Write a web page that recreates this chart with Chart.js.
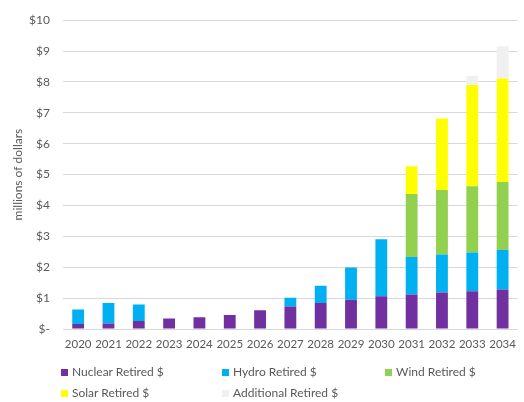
<!DOCTYPE html>
<html>
<head>
<meta charset="utf-8">
<script src="https://cdn.jsdelivr.net/npm/chart.js@4"></script>
<style>
  html, body { margin: 0; padding: 0; background: #ffffff; }
  #wrap { position: relative; width: 524px; height: 402px; }
  #chart { position: absolute; left: 0; top: 0; }
  .lg { position: absolute; font-family: Lato, "Open Sans", sans-serif; font-size: 12px; color: #595959; line-height: 14px; white-space: nowrap; }
  .lg i { position: absolute; left: -11px; top: 4px; width: 7px; height: 7px; }
</style>
</head>
<body>
<div id="wrap">
  <canvas id="chart" width="524" height="402"></canvas>
  <div id="legend"></div>
</div>
<script>
// Retirement cost by year, millions of dollars
const years = ['2020','2021','2022','2023','2024','2025','2026','2027','2028','2029','2030','2031','2032','2033','2034'];
const nuclear    = [0.16, 0.18, 0.26, 0.34, 0.38, 0.45, 0.61, 0.73, 0.84, 0.95, 1.06, 1.12, 1.18, 1.22, 1.28];
const hydro      = [0.47, 0.66, 0.53, 0, 0, 0, 0, 0.28, 0.56, 1.04, 1.85, 1.21, 1.23, 1.26, 1.28];
const wind       = [0, 0, 0, 0, 0, 0, 0, 0, 0, 0, 0, 2.04, 2.09, 2.14, 2.20];
const solar      = [0, 0, 0, 0, 0, 0, 0, 0, 0, 0, 0, 0.90, 2.32, 3.28, 3.35];
const additional = [0, 0, 0, 0, 0, 0, 0, 0, 0, 0, 0, 0, 0, 0.30, 1.05];
const yTicks = [0, 1, 2, 3, 4, 5, 6, 7, 8, 9, 10];

const series = [
  { label: 'Nuclear Retired $',    data: nuclear,    color: '#7030A0' },
  { label: 'Hydro Retired $',      data: hydro,      color: '#00B0F0' },
  { label: 'Wind Retired $',       data: wind,       color: '#92D050' },
  { label: 'Solar Retired $',      data: solar,      color: '#FFFF00' },
  { label: 'Additional Retired $', data: additional, color: '#F0F0F0' }
];

const FONT = 'Lato, "Open Sans", sans-serif';
const TEXT = '#595959';

new Chart(document.getElementById('chart'), {
  type: 'bar',
  data: {
    labels: years,
    datasets: series.map(s => ({
      label: s.label,
      data: s.data,
      backgroundColor: s.color,
      borderWidth: 0,
      barPercentage: 0.39,
      categoryPercentage: 1.0
    }))
  },
  options: {
    responsive: false,
    animation: false,
    devicePixelRatio: 1,
    layout: { padding: { top: 16, right: 2, bottom: 43, left: 0 } },
    plugins: { legend: { display: false }, tooltip: { enabled: false } },
    scales: {
      x: {
        stacked: true,
        grid: { display: false, drawTicks: false },
        border: { display: false },
        ticks: { color: TEXT, font: { family: FONT, size: 11.5 }, padding: 8, maxRotation: 0, autoSkip: false },
        afterFit: (s) => { s.height = 30; }
      },
      y: {
        stacked: true,
        min: 0,
        max: 10,
        afterBuildTicks: (s) => { s.ticks = yTicks.map(v => ({ value: v })); },
        grid: { color: '#D9D9D9', lineWidth: 1, drawTicks: false },
        border: { display: false },
        ticks: {
          color: TEXT,
          font: { family: FONT, size: 12 },
          padding: 13,
          callback: (v) => v === 0 ? '$-' : '$' + v
        },
        title: {
          display: true,
          text: 'millions of dollars',
          color: TEXT,
          font: { family: FONT, size: 12 },
          padding: { top: 11, bottom: 0 }
        },
        afterFit: (s) => { s.width = 63; }
      }
    }
  }
});

// Legend laid out in three columns under the axis
const legendPos = [
  { x: 72,  y: 365 }, { x: 233, y: 365 }, { x: 396, y: 365 },
  { x: 72,  y: 386 }, { x: 233, y: 386 }
];
const legend = document.getElementById('legend');
series.forEach((s, i) => {
  const el = document.createElement('div');
  el.className = 'lg';
  el.style.left = legendPos[i].x + 'px';
  el.style.top = legendPos[i].y + 'px';
  const sw = document.createElement('i');
  sw.style.background = s.color;
  el.appendChild(sw);
  el.appendChild(document.createTextNode(s.label));
  legend.appendChild(el);
});
</script>
</body>
</html>
